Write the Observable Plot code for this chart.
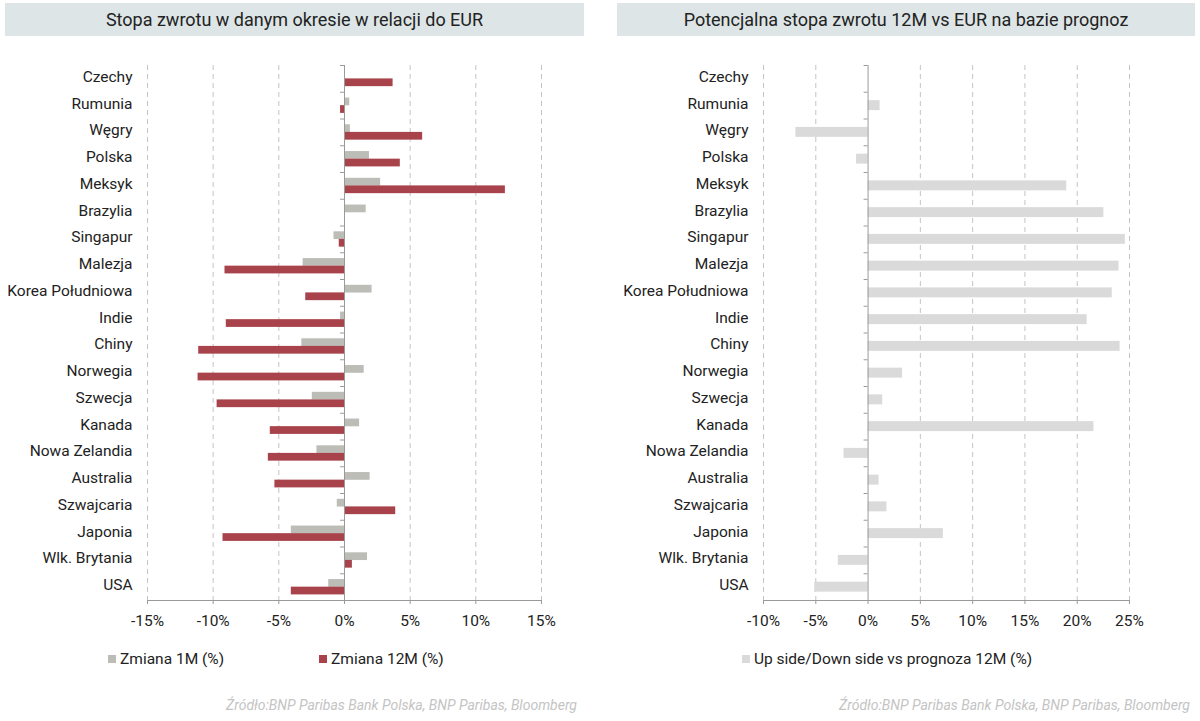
<!DOCTYPE html>
<html>
<head>
<meta charset="utf-8">
<script src="https://cdn.jsdelivr.net/npm/d3@7"></script>
<script src="https://cdn.jsdelivr.net/npm/@observablehq/plot@0.6"></script>
<style>
  html, body { margin: 0; padding: 0; background: #fff; }
  body { width: 1200px; height: 721px; position: relative; overflow: hidden; font-family: Roboto, "Open Sans", sans-serif; color: #222; }
  .panel { position: absolute; top: 0; }
  .title { position: absolute; top: 3px; height: 33px; line-height: 33px; background: #dde5e6; text-align: center; font-size: 18px; color: #222; z-index: 2; }
  .leg { position: absolute; top: 650px; font-size: 15.5px; line-height: 18px; color: #222; white-space: nowrap; z-index: 2; }
  .sw { display: inline-block; width: 8px; height: 8px; margin-right: 4px; vertical-align: 1px; }
  .src { position: absolute; top: 697px; font-size: 14px; font-style: italic; color: #c4c4c4; white-space: nowrap; text-align: right; z-index: 2; }
</style>
</head>
<body>
<div id="left" class="panel" style="left:0"></div>
<div id="right" class="panel" style="left:600px"></div>

<div class="title" style="left:5px; width:579px;">Stopa zwrotu w danym okresie w relacji do EUR</div>
<div class="title" style="left:617px; width:578px;">Potencjalna stopa zwrotu 12M vs EUR na bazie prognoz</div>

<div class="leg" style="left:108px;"><span class="sw" style="background:#bdbdb8"></span>Zmiana 1M (%)</div>
<div class="leg" style="left:319px;"><span class="sw" style="background:#a8434b"></span>Zmiana 12M (%)</div>
<div class="leg" style="left:742px;"><span class="sw" style="background:#dadada"></span>Up side/Down side vs prognoza 12M (%)</div>

<div class="src" style="right:623px;">Źródło:BNP Paribas Bank Polska, BNP Paribas, Bloomberg</div>
<div class="src" style="right:10px;">Źródło:BNP Paribas Bank Polska, BNP Paribas, Bloomberg</div>

<script>
const categories = ["Czechy","Rumunia","Węgry","Polska","Meksyk","Brazylia","Singapur","Malezja","Korea Południowa","Indie","Chiny","Norwegia","Szwecja","Kanada","Nowa Zelandia","Australia","Szwajcaria","Japonia","Wlk. Brytania","USA"];
const change1M  = [0, 0.4, 0.45, 1.9, 2.75, 1.65, -0.8, -3.15, 2.1, -0.3, -3.25, 1.5, -2.45, 1.15, -2.1, 1.95, -0.55, -4.05, 1.75, -1.2];
const change12M = [3.7, -0.3, 5.95, 4.25, 12.25, 0, -0.4, -9.1, -2.95, -9.0, -11.1, -11.15, -9.7, -5.65, -5.8, -5.3, 3.9, -9.25, 0.6, -4.05];
const upside12M = [0, 1.15, -6.9, -1.1, 19.0, 22.55, 24.6, 24.0, 23.35, 20.95, 24.1, 3.3, 1.4, 21.6, -2.3, 1.05, 1.8, 7.2, -2.85, -5.1];
const leftTicks  = [-15, -10, -5, 0, 5, 10, 15];
const rightTicks = [-10, -5, 0, 5, 10, 15, 20, 25];

const data = categories.map((c, i) => ({c, m1: change1M[i], m12: change12M[i], up: upside12M[i]}));

const H = 635, MT = 65, MB = 35;
const step = (H - MT - MB) / categories.length;
const axisColor = "#9a9a9a";
const gridColor = "#c4c4c4";
const style = {fontFamily: "Roboto, 'Open Sans', sans-serif", fontSize: "15.5px", color: "#222", background: "transparent", overflow: "visible"};
const fmt = d => `${d}%`;

const left = Plot.plot({
  width: 600, height: H,
  marginLeft: 147, marginRight: 59, marginTop: MT, marginBottom: MB,
  style,
  x: {domain: [leftTicks[0], leftTicks[leftTicks.length - 1]], label: null},
  y: {type: "band", domain: categories, padding: 0, round: false, label: null},
  marks: [
    Plot.ruleX(leftTicks.filter(d => d !== 0), {stroke: gridColor, strokeDasharray: "5,4"}),
    Plot.barX(data, {x: "m1", y: "c", fill: "#bdbdb8", insetTop: 5.8, insetBottom: 13.2}),
    Plot.barX(data, {x: "m12", y: "c", fill: "#a8434b", insetTop: 13.4, insetBottom: 5.6}),
    Plot.ruleX([0], {stroke: axisColor}),
    Plot.ruleY(categories, {y: d => d, x1: 0, x2: -0.3, dy: -step / 2, stroke: axisColor}),
    Plot.frame({anchor: "bottom", stroke: axisColor}),
    Plot.axisX(leftTicks, {anchor: "bottom", tickSize: 4, tickPadding: 10, tickFormat: fmt, stroke: axisColor, fill: "#222", label: null}),
    Plot.axisY({anchor: "left", tickSize: 0, tickPadding: 15, dy: -2, fill: "#222", label: null})
  ]
});
document.getElementById("left").append(left);

const right = Plot.plot({
  width: 600, height: H,
  marginLeft: 163, marginRight: 71, marginTop: MT, marginBottom: MB,
  style,
  x: {domain: [rightTicks[0], rightTicks[rightTicks.length - 1]], label: null},
  y: {type: "band", domain: categories, padding: 0, round: false, label: null},
  marks: [
    Plot.ruleX(rightTicks.filter(d => d !== 0), {stroke: gridColor, strokeDasharray: "5,4"}),
    Plot.barX(data, {x: "up", y: "c", fill: "#dadada", insetTop: 8.4, insetBottom: 8.4}),
    Plot.ruleX([0], {stroke: axisColor}),
    Plot.ruleY(categories, {y: d => d, x1: 0, x2: -0.38, dy: -step / 2, stroke: axisColor}),
    Plot.frame({anchor: "bottom", stroke: axisColor}),
    Plot.axisX(rightTicks, {anchor: "bottom", tickSize: 4, tickPadding: 10, tickFormat: fmt, stroke: axisColor, fill: "#222", label: null}),
    Plot.axisY({anchor: "left", tickSize: 0, tickPadding: 15, dy: -2, fill: "#222", label: null})
  ]
});
document.getElementById("right").append(right);
</script>
</body>
</html>
